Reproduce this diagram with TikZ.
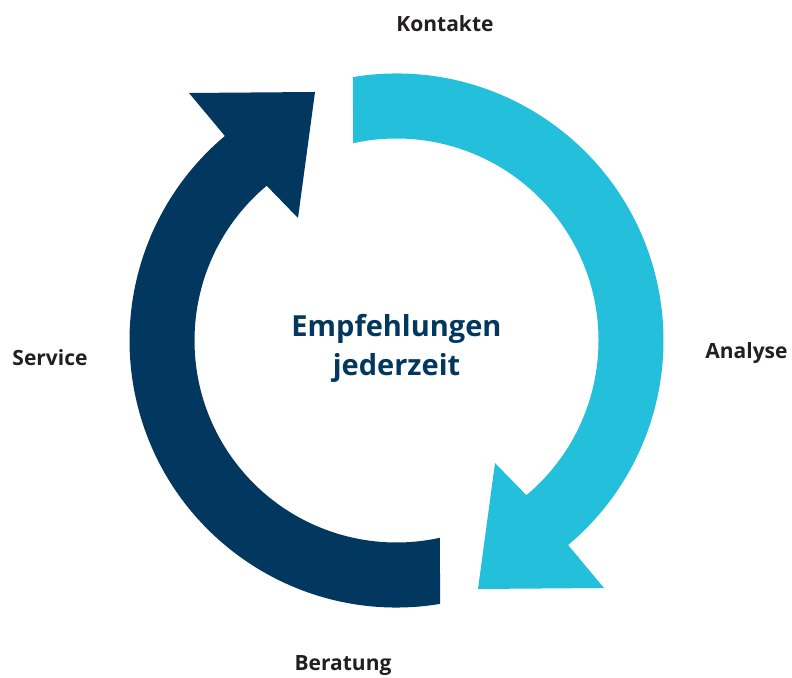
\documentclass[tikz,border=0pt]{standalone}
\usepackage{fontspec}
\setmainfont{Open Sans}
\usetikzlibrary{positioning}

\definecolor{lightarc}{HTML}{23BFDB}
\definecolor{darkarc}{HTML}{02375F}
\definecolor{labeltext}{HTML}{231F20}

\tikzset{
	steplabel/.style={font=\fontsize{21}{25}\selectfont\bfseries, text=labeltext, anchor=base, inner sep=0pt},
	centerlabel/.style={font=\fontsize{29}{39}\selectfont\bfseries, text=darkarc, align=center, inner sep=0pt}
}

\begin{document}
\begin{tikzpicture}[x=1pt,y=1pt]
	\useasboundingbox (0,0) rectangle (792,677);
	
	% the two arrows of the cycle, one turned by 180 degrees
	\begin{scope}[shift={(396.5,336.5)}]
		\foreach \col/\rot in {lightarc/0, darkarc/180} {
			\fill[\col, rotate=\rot] (99.4:267pt) arc[start angle=99.4, end angle=-50, radius=267pt]
				-- (207.5,-247.5) -- (81.5,-248.5) -- (98.5,-122.5)
				-- (-50:202pt) arc[start angle=-50, end angle=102.4, radius=202pt] -- cycle;
		}
	\end{scope}
	
	\node[centerlabel] (center) at (396.5,328.5) {Empfehlungen\\jederzeit};
	
	\node[steplabel] (kontakte) at (445,645) {Kontakte};
	\node[steplabel] (analyse) at (746.5,318) {Analyse};
	\node[steplabel] (beratung) at (343,6) {Beratung};
	\node[steplabel] (service) at (50,311) {Service};
\end{tikzpicture}
\end{document}
